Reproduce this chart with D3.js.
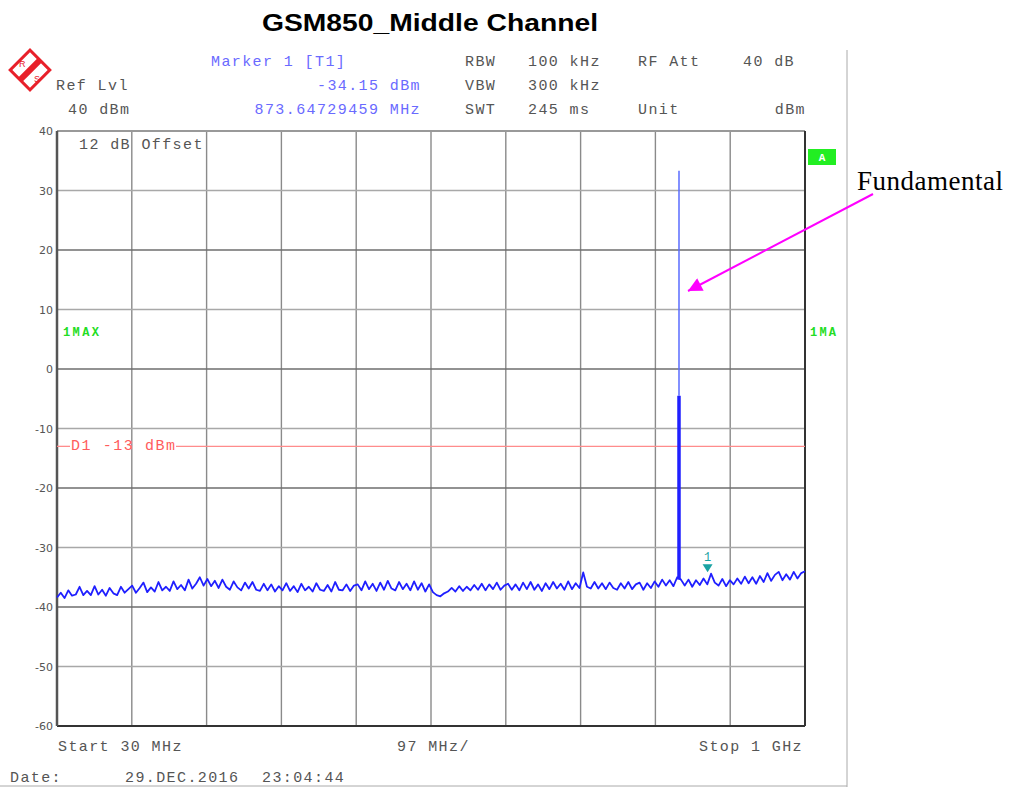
<!DOCTYPE html>
<html>
<head>
<meta charset="utf-8">
<script src="https://cdn.jsdelivr.net/npm/d3@7"></script>
<style>
  body { margin: 0; background: #fff; }
  svg text { font-family: "Liberation Mono", "Courier New", monospace; }
</style>
</head>
<body>
<svg id="chart" width="1013" height="787"></svg>
<script>
// sweep settings
var startFreq = 30, stopFreq = 1000, freqPerDiv = 97;
var levelTicks = [40, 30, 20, 10, 0, -10, -20, -30, -40, -50, -60];

// noise floor trace (dBm), evenly spaced sweep points from 30 MHz to 1 GHz
var traceLevels = [
  -38.4,-37.6,-38.5,-37.2,-38.1,-37.9,-36.6,-38.0,-37.3,-38.0,-36.5,-37.9,-37.1,-38.1,-36.8,-37.7,-38.0,-36.6,-37.6,-37.0,
  -36.4,-37.6,-36.8,-35.9,-37.5,-36.7,-37.4,-35.8,-37.2,-36.6,-37.3,-35.7,-37.0,-36.3,-37.2,-35.4,-36.9,-36.1,-35.0,-36.4,
  -35.3,-36.5,-35.6,-36.8,-35.4,-36.6,-37.1,-35.7,-36.7,-37.2,-35.9,-36.9,-35.8,-37.1,-37.3,-36.1,-37.2,-36.2,-37.4,-36.5,
  -37.2,-36.0,-37.3,-36.5,-37.5,-36.1,-37.2,-36.6,-37.4,-36.0,-37.1,-37.3,-36.3,-37.4,-35.8,-37.1,-37.2,-36.2,-37.3,-36.4,
  -36.2,-37.2,-35.7,-37.0,-36.1,-37.3,-35.9,-37.1,-35.6,-36.9,-37.2,-35.8,-37.0,-36.1,-37.2,-35.7,-37.1,-36.0,-37.4,-36.2,
  -37.5,-38.0,-38.2,-37.7,-37.4,-36.8,-37.4,-36.5,-37.3,-36.6,-37.2,-36.3,-37.1,-36.1,-37.2,-36.2,-37.0,-35.9,-37.1,-36.4,
  -36.1,-37.1,-36.2,-37.2,-35.9,-37.0,-35.8,-37.1,-36.2,-37.3,-36.0,-37.0,-35.8,-36.9,-36.1,-37.1,-35.7,-37.0,-36.0,-36.8,
  -34.2,-36.6,-36.9,-35.8,-36.9,-36.0,-37.0,-35.9,-36.8,-37.1,-36.0,-36.9,-35.8,-37.0,-36.2,-35.9,-37.1,-36.0,-36.8,-35.7,
  -36.6,-35.4,-36.4,-35.5,-36.5,-35.0,-35.4,-36.4,-35.4,-36.6,-35.5,-36.3,-35.2,-36.2,-34.4,-35.9,-36.4,-35.3,-36.5,-35.5,
  -36.2,-35.2,-36.1,-34.9,-36.0,-35.0,-36.1,-34.8,-35.8,-34.3,-35.6,-34.6,-34.1,-35.5,-34.5,-35.4,-34.1,-35.2,-34.3,-34.0
];

// GSM carrier
var carrierFreq = 836.6, carrierPeak = 33.3, burstTop = -4.5, burstBottom = -35.4;
// marker 1 and display line
var markerFreq = 873.64729459, markerLevel = -34.15;
var displayLine = -13;

var svg = d3.select("#chart");
var plotLeft = 57, plotRight = 805, plotTop = 131, plotBottom = 726;

var x = d3.scaleLinear().domain([startFreq, stopFreq]).range([plotLeft, plotRight]);
var y = d3.scaleLinear().domain([-60, 40]).range([plotBottom, plotTop]);

// title
svg.append("text")
  .attr("x", 262).attr("y", 31)
  .attr("textLength", 336).attr("lengthAdjust", "spacingAndGlyphs")
  .style("font-family", "'Liberation Sans', Arial, sans-serif")
  .style("font-weight", "bold").style("font-size", "24px")
  .text("GSM850_Middle Channel");

// outer frame
svg.append("line").attr("x1", 847).attr("x2", 847).attr("y1", 50).attr("y2", 787)
  .attr("stroke", "#aaa").attr("stroke-width", 1);
svg.append("line").attr("x1", 0).attr("x2", 847).attr("y1", 786).attr("y2", 786)
  .attr("stroke", "#aaa").attr("stroke-width", 1);

// R&S logo
var logo = svg.append("g").attr("transform", "translate(30,70) rotate(45)");
logo.append("rect").attr("x", -14).attr("y", -14).attr("width", 28).attr("height", 28)
  .attr("fill", "none").attr("stroke", "#e8202a").attr("stroke-width", 3);
logo.append("rect").attr("x", -3).attr("y", -14).attr("width", 6).attr("height", 28)
  .attr("fill", "#e8202a");
svg.append("text").attr("x", 19).attr("y", 67).attr("fill", "#e8202a")
  .style("font-size", "9px").style("font-family", "'Liberation Sans', sans-serif").text("R");
svg.append("text").attr("x", 34).attr("y", 82).attr("fill", "#e8202a")
  .style("font-size", "9px").style("font-family", "'Liberation Sans', sans-serif").text("S");

// header text
var hdr = [
  {t: "Marker 1 [T1]", x: 211, y: 66, c: "#6a6aff", a: "start"},
  {t: "Ref Lvl", x: 56, y: 90, c: "#555", a: "start"},
  {t: "-34.15 dBm", x: 421, y: 90, c: "#6a6aff", a: "end"},
  {t: "40 dBm", x: 68, y: 114, c: "#555", a: "start"},
  {t: "873.64729459 MHz", x: 421, y: 114, c: "#6a6aff", a: "end"},
  {t: "RBW", x: 465, y: 66, c: "#555", a: "start"},
  {t: "100 kHz", x: 528, y: 66, c: "#555", a: "start"},
  {t: "RF Att", x: 638, y: 66, c: "#555", a: "start"},
  {t: "40 dB", x: 795, y: 66, c: "#555", a: "end"},
  {t: "VBW", x: 465, y: 90, c: "#555", a: "start"},
  {t: "300 kHz", x: 528, y: 90, c: "#555", a: "start"},
  {t: "SWT", x: 465, y: 114, c: "#555", a: "start"},
  {t: "245 ms", x: 528, y: 114, c: "#555", a: "start"},
  {t: "Unit", x: 638, y: 114, c: "#555", a: "start"},
  {t: "dBm", x: 806, y: 114, c: "#555", a: "end"},
  {t: "12 dB Offset", x: 79, y: 149, c: "#555", a: "start"},
  {t: "Start 30 MHz", x: 58, y: 751, c: "#555", a: "start"},
  {t: "97 MHz/", x: 397, y: 751, c: "#555", a: "start"},
  {t: "Stop 1 GHz", x: 803, y: 751, c: "#555", a: "end"},
  {t: "Date:", x: 10, y: 782, c: "#555", a: "start"},
  {t: "29.DEC.2016", x: 125, y: 782, c: "#555", a: "start"},
  {t: "23:04:44", x: 262, y: 782, c: "#555", a: "start"}
];

// plot grid
var plot = svg.append("g");
var xGrid = d3.range(1, 10).map(function(i) { return startFreq + freqPerDiv * i; });
plot.selectAll(".vgrid").data(xGrid).enter().append("line")
  .attr("x1", function(d) { return x(d); }).attr("x2", function(d) { return x(d); })
  .attr("y1", plotTop).attr("y2", plotBottom)
  .attr("stroke", "#8a8a8a").attr("stroke-width", 1.4);
plot.selectAll(".hgrid").data(levelTicks.slice(1, -1)).enter().append("line")
  .attr("x1", plotLeft).attr("x2", plotRight)
  .attr("y1", function(d) { return y(d); }).attr("y2", function(d) { return y(d); })
  .attr("stroke", function(d, i) { return i % 2 ? "#6e6e6e" : "#a8a8a8"; })
  .attr("stroke-width", 1.4);

// y tick labels
plot.selectAll(".ylab").data(levelTicks).enter().append("text")
  .attr("x", 53).attr("y", function(d) { return y(d) + 4; })
  .attr("text-anchor", "end").attr("fill", "#555")
  .style("font-size", "11px").style("font-family", "'DejaVu Sans', sans-serif")
  .text(function(d) { return d; });

// border
plot.append("line").attr("x1", plotLeft).attr("x2", plotRight).attr("y1", plotTop).attr("y2", plotTop)
  .attr("stroke", "#999").attr("stroke-width", 2);
plot.append("line").attr("x1", plotLeft).attr("x2", plotRight).attr("y1", plotBottom).attr("y2", plotBottom)
  .attr("stroke", "#333").attr("stroke-width", 2);
plot.append("line").attr("x1", plotLeft).attr("x2", plotLeft).attr("y1", plotTop).attr("y2", plotBottom)
  .attr("stroke", "#555").attr("stroke-width", 2.5);
plot.append("line").attr("x1", plotRight).attr("x2", plotRight).attr("y1", plotTop).attr("y2", plotBottom)
  .attr("stroke", "#333").attr("stroke-width", 2);

// display line D1
var dy = y(displayLine);
plot.append("line").attr("x1", plotLeft).attr("x2", 70).attr("y1", dy).attr("y2", dy)
  .attr("stroke", "#ff8c8c").attr("stroke-width", 1.3);
plot.append("line").attr("x1", 176).attr("x2", plotRight).attr("y1", dy).attr("y2", dy)
  .attr("stroke", "#ff8c8c").attr("stroke-width", 1.3);
plot.append("text").attr("x", 71).attr("y", dy + 4).attr("fill", "#ff5c5c")
  .style("font-size", "15px").attr("textLength", 104).text("D1 -13 dBm");

// trace
var step = (stopFreq - startFreq) / (traceLevels.length - 1);
var line = d3.line()
  .x(function(d, i) { return x(startFreq + i * step); })
  .y(function(d) { return y(d); });
plot.append("path").datum(traceLevels).attr("d", line)
  .attr("fill", "none").attr("stroke", "#1f1fff").attr("stroke-width", 1.8)
  .attr("stroke-linejoin", "round");

// carrier
plot.append("line").attr("x1", x(carrierFreq)).attr("x2", x(carrierFreq))
  .attr("y1", y(carrierPeak)).attr("y2", y(burstTop))
  .attr("stroke", "#5a6cff").attr("stroke-width", 1.5);
plot.append("line").attr("x1", x(carrierFreq)).attr("x2", x(carrierFreq))
  .attr("y1", y(burstTop)).attr("y2", y(burstBottom))
  .attr("stroke", "#1f1fff").attr("stroke-width", 3.5);

// marker 1
var mx = x(markerFreq), my = y(markerLevel);
plot.append("path")
  .attr("d", "M" + (mx - 5) + "," + (my - 8) + "L" + (mx + 5) + "," + (my - 8) + "L" + mx + "," + my + "Z")
  .attr("fill", "#1aa3a3");
plot.append("text").attr("x", mx).attr("y", my - 11).attr("text-anchor", "middle")
  .attr("fill", "#1aa3a3").style("font-size", "12px").text("1");

// trace labels
svg.append("text").attr("x", 63).attr("y", 336).attr("fill", "#22dd22")
  .style("font-size", "12px").style("font-weight", "bold").attr("textLength", 36).text("1MAX");
svg.append("text").attr("x", 810).attr("y", 336).attr("fill", "#22dd22")
  .style("font-size", "12px").style("font-weight", "bold").attr("textLength", 26).text("1MA");
svg.append("rect").attr("x", 808).attr("y", 149).attr("width", 28).attr("height", 16)
  .attr("fill", "#22ee22");
svg.append("text").attr("x", 822).attr("y", 161).attr("text-anchor", "middle")
  .attr("fill", "#fff").style("font-size", "11px").style("font-weight", "bold").text("A");

svg.selectAll(".hdr").data(hdr).enter().append("text")
  .attr("x", function(d) { return d.x; }).attr("y", function(d) { return d.y; })
  .attr("text-anchor", function(d) { return d.a; })
  .attr("fill", function(d) { return d.c; })
  .style("font-size", "15px").style("letter-spacing", "1.4px")
  .text(function(d) { return d.t; });

// annotation
svg.append("defs").append("marker").attr("id", "arrow")
  .attr("viewBox", "0 0 10 10").attr("refX", 10).attr("refY", 5)
  .attr("markerWidth", 20).attr("markerHeight", 14).attr("markerUnits", "userSpaceOnUse")
  .attr("orient", "auto")
  .append("path").attr("d", "M0,0L10,5L0,10Z").attr("fill", "#ff00ff");
svg.append("line").attr("x1", 873).attr("y1", 194).attr("x2", 688).attr("y2", 291)
  .attr("stroke", "#ff00ff").attr("stroke-width", 2).attr("marker-end", "url(#arrow)");
svg.append("text").attr("x", 857).attr("y", 190)
  .style("font-family", "'Liberation Serif', 'Times New Roman', serif")
  .style("font-size", "27px").attr("textLength", 146).text("Fundamental");
</script>
</body>
</html>
